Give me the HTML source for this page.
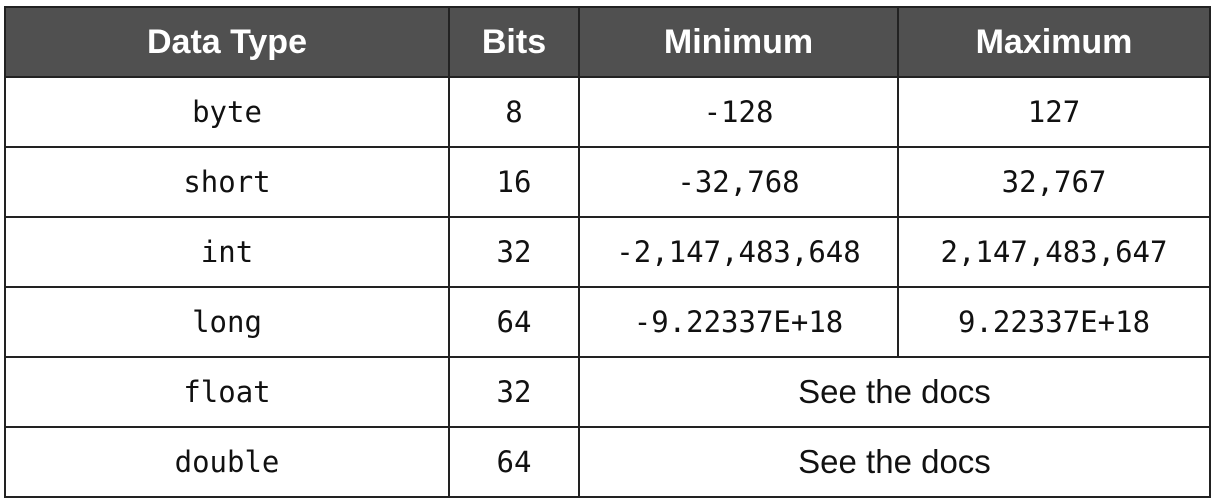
<!DOCTYPE html>
<html><head><meta charset="utf-8"><style>
body{margin:0;width:1213px;height:504px;background:#fff;overflow:hidden}
table{position:absolute;left:4px;top:6px;border-collapse:collapse;table-layout:fixed;width:1205px}
td,th{border:2px solid #222;text-align:center;padding:0}
th{background:#505050;color:#fff;font:bold 34px "Liberation Sans",sans-serif;height:68px}
td{height:68px;font:29px "DejaVu Sans Mono","Liberation Mono",monospace;color:#111}
td.s{font:33px "Liberation Sans",sans-serif}
</style></head><body>
<table>
<colgroup><col style="width:444px"><col style="width:130px"><col style="width:319px"><col style="width:312px"></colgroup>
<tr><th>Data Type</th><th>Bits</th><th>Minimum</th><th>Maximum</th></tr>
<tr><td>byte</td><td>8</td><td>-128</td><td>127</td></tr>
<tr><td>short</td><td>16</td><td>-32,768</td><td>32,767</td></tr>
<tr><td>int</td><td>32</td><td>-2,147,483,648</td><td>2,147,483,647</td></tr>
<tr><td>long</td><td>64</td><td>-9.22337E+18</td><td>9.22337E+18</td></tr>
<tr><td>float</td><td>32</td><td class="s" colspan="2">See the docs</td></tr>
<tr><td>double</td><td>64</td><td class="s" colspan="2">See the docs</td></tr>
</table>
</body></html>
